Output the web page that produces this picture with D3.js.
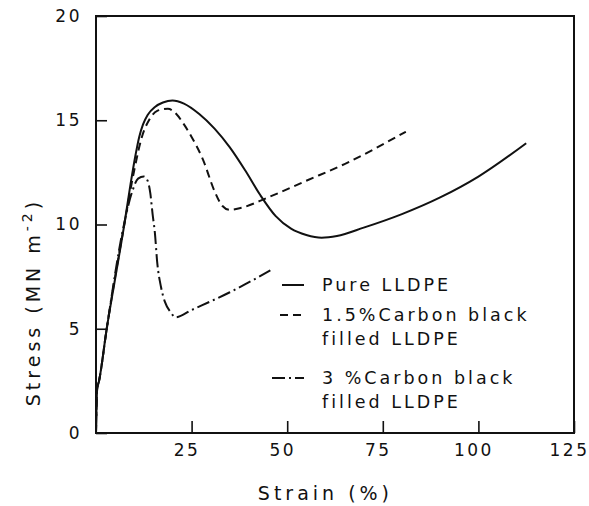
<!DOCTYPE html>
<html>
<head>
<meta charset="utf-8">
<script src="https://cdn.jsdelivr.net/npm/d3@7"></script>
<style>
  body { margin: 0; background: #fff; }
  text { font-family: "DejaVu Sans", sans-serif; fill: #111; }
</style>
</head>
<body>
<div id="chart"></div>
<script>
const WIDTH = 589;
const HEIGHT = 506;
const MARGIN = { TOP: 16, BOTTOM: 73, LEFT: 96, RIGHT: 15 };

const width = WIDTH - MARGIN.LEFT - MARGIN.RIGHT;
const height = HEIGHT - MARGIN.TOP - MARGIN.BOTTOM;

// data: strain (%) / stress (MN m^-2)
const pureStrain = [0, 0.3, 0.8, 2.8, 5, 7.4, 9, 10.3, 11.3, 12.3, 13.5, 15.5, 17.5, 20, 23, 27, 31, 35, 39, 43, 47, 51, 55, 59, 63, 70, 80, 90, 100, 112.5];
const pureStress = [0, 2.1, 2.5, 5, 7.4, 10, 11.9, 13.3, 14.2, 14.8, 15.25, 15.65, 15.85, 15.95, 15.8, 15.3, 14.6, 13.7, 12.6, 11.4, 10.4, 9.8, 9.5, 9.37, 9.45, 9.85, 10.5, 11.3, 12.3, 13.9];

const cb15Strain = [0, 0.3, 0.8, 2.8, 7.4, 10, 12, 14, 16, 18.8, 21, 23, 25, 28, 31, 33, 35, 38, 45, 55, 65, 81];
const cb15Stress = [0, 2.1, 2.5, 5, 10, 12.6, 14.2, 15.05, 15.45, 15.55, 15.3, 14.8, 14.2, 13.1, 11.6, 10.9, 10.7, 10.8, 11.3, 12.1, 12.9, 14.45];

const cb3Strain = [0, 0.3, 0.8, 2.8, 7.2, 9.5, 11, 12.5, 13.5, 14.2, 14.8, 15.4, 16, 17, 18, 19.5, 20.8, 25, 35, 45.6];
const cb3Stress = [0, 2.1, 2.5, 5, 9.9, 11.6, 12.2, 12.3, 12.1, 11.5, 10.5, 9.6, 8.2, 7, 6.3, 5.8, 5.55, 5.9, 6.75, 7.8];

const xTicks = [25, 50, 75, 100, 125];
const yTicks = [0, 5, 10, 15, 20];

const series = [
  { name: ['Pure LLDPE'], x: pureStrain, y: pureStress, dash: null },
  { name: ['1.5%Carbon black', 'filled LLDPE'], x: cb15Strain, y: cb15Stress, dash: '8,5' },
  { name: ['3 %Carbon black', 'filled LLDPE'], x: cb3Strain, y: cb3Stress, dash: '13,4,2,4' }
];

const svg = d3.select('#chart')
  .append('svg')
    .attr('width', WIDTH)
    .attr('height', HEIGHT);

const container = svg.append('g')
    .attr('transform', `translate(${MARGIN.LEFT}, ${MARGIN.TOP})`);

const x = d3.scaleLinear().domain([0, 125]).range([0, width]);
const y = d3.scaleLinear().domain([0, 20]).range([height, 0]);

// frame
container.append('rect')
  .attr('width', width)
  .attr('height', height)
  .attr('fill', 'none')
  .attr('stroke', '#111')
  .attr('stroke-width', 2);

// axes with inward ticks
const xAxis = container.append('g')
  .attr('transform', `translate(0, ${height})`)
  .call(d3.axisBottom(x).tickValues(xTicks).tickSizeInner(-12).tickSizeOuter(0).tickPadding(11));

const yAxis = container.append('g')
  .call(d3.axisLeft(y).tickValues(yTicks).tickSizeInner(-11).tickSizeOuter(0).tickPadding(14));

[xAxis, yAxis].forEach(a => {
  a.select('.domain').remove();
  a.selectAll('line').attr('stroke', '#111').attr('stroke-width', 1.6);
  a.selectAll('text')
    .style('font-family', '"DejaVu Sans", sans-serif')
    .style('font-size', '17px')
    .style('letter-spacing', '2.5px')
    .attr('fill', '#111');
});
xAxis.selectAll('text').attr('dx', -5);

// axis titles
svg.append('text')
  .attr('x', MARGIN.LEFT + x(60))
  .attr('y', 500)
  .attr('text-anchor', 'middle')
  .style('font-size', '19px')
  .style('letter-spacing', '4px')
  .text('Strain (%)');

const yTitle = svg.append('text')
  .attr('transform', 'translate(40, 302) rotate(-90)')
  .attr('text-anchor', 'middle')
  .style('font-size', '19px')
  .style('letter-spacing', '4px');
yTitle.append('tspan').text('Stress (MN m');
yTitle.append('tspan').attr('dy', -8).style('font-size', '14px').text('-2');
yTitle.append('tspan').attr('dy', 8).text(')');

// curves
const line = d3.line()
  .x(d => x(d[0]))
  .y(d => y(d[1]))
  .curve(d3.curveMonotoneX);

container.selectAll('path.curve')
  .data(series)
  .enter().append('path')
    .attr('class', 'curve')
    .attr('d', s => line(s.x.map((v, i) => [v, s.y[i]])))
    .attr('fill', 'none')
    .attr('stroke', '#111')
    .attr('stroke-width', 2)
    .attr('stroke-dasharray', s => s.dash);

// legend
const legendRows = [285, 315, 378];
const legendStart = [282, 280, 272];
const legend = svg.append('g');

series.forEach((s, i) => {
  legend.append('line')
    .attr('x1', legendStart[i]).attr('x2', 304)
    .attr('y1', legendRows[i]).attr('y2', legendRows[i])
    .attr('stroke', '#111')
    .attr('stroke-width', 2)
    .attr('stroke-dasharray', s.dash);
  s.name.forEach((t, j) => {
    legend.append('text')
      .attr('x', 322)
      .attr('y', legendRows[i] + j * 24)
      .attr('dy', '0.35em')
      .style('font-size', '17.5px')
      .style('letter-spacing', '3px')
      .text(t);
  });
});
</script>
</body>
</html>
